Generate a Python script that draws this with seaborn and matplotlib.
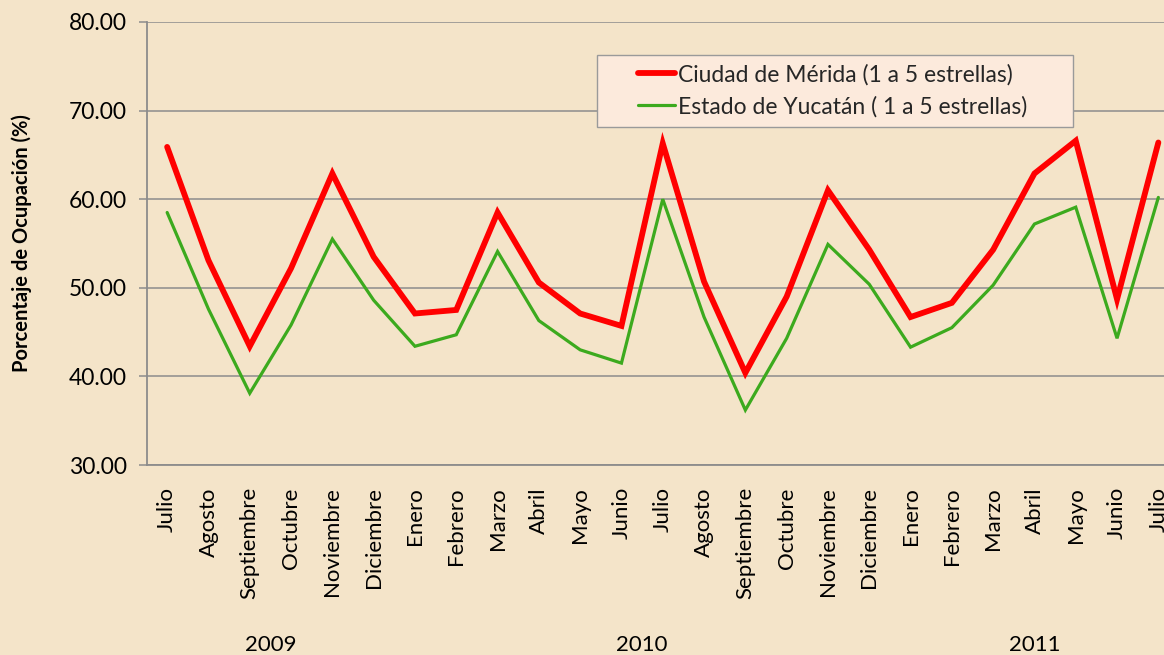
import matplotlib
matplotlib.use("Agg")
import matplotlib.pyplot as plt
import matplotlib.transforms as mtransforms
from matplotlib.patches import Rectangle
from matplotlib.lines import Line2D
import seaborn as sns
import pandas as pd

# ---- data ----
months = ["Julio", "Agosto", "Septiembre", "Octubre", "Noviembre", "Diciembre",
          "Enero", "Febrero", "Marzo", "Abril", "Mayo", "Junio",
          "Julio", "Agosto", "Septiembre", "Octubre", "Noviembre", "Diciembre",
          "Enero", "Febrero", "Marzo", "Abril", "Mayo", "Junio", "Julio"]
merida = [65.9, 53.1, 43.4, 52.2, 62.9, 53.5, 47.1, 47.5, 58.5, 50.6, 47.1, 45.7,
          66.3, 50.7, 40.4, 49.0, 61.0, 54.3, 46.7, 48.3, 54.3, 62.9, 66.6, 48.7, 66.4]
yucatan = [58.5, 47.6, 38.1, 45.8, 55.5, 48.6, 43.4, 44.7, 54.1, 46.3, 43.0, 41.5,
           60.0, 46.7, 36.2, 44.3, 54.9, 50.4, 43.3, 45.5, 50.3, 57.2, 59.1, 44.3, 60.2]
years = ["2009", "2010", "2011"]
year_spans = [(0, 5), (6, 17), (18, 24)]
series_names = ["Ciudad de Mérida (1 a 5 estrellas)", "Estado de Yucatán ( 1 a 5 estrellas)"]
y_label = "Porcentaje de Ocupación (%)"

idx = list(range(len(months)))
df = pd.DataFrame({
    "idx": idx * 2,
    "valor": merida + yucatan,
    "serie": [series_names[0]] * len(idx) + [series_names[1]] * len(idx),
})

BG = "#F4E4C9"
RED = "#FF0000"
GREEN = "#3CAA1E"
sns.set_theme(style="white")
plt.rcParams["font.family"] = ["Lato", "DejaVu Sans"]

W, H = 1164, 655
fig = plt.figure(figsize=(W / 100, H / 100), dpi=100, facecolor=BG)
ax = fig.add_axes([146.5 / W, 1 - 465 / H, 1032.5 / W, 443 / H])
ax.set_facecolor(BG)

palette = {series_names[0]: RED, series_names[1]: GREEN}
sns.lineplot(data=df, x="idx", y="valor", hue="serie", palette=palette,
             size="serie", sizes={series_names[0]: 4.2, series_names[1]: 2.3},
             ax=ax, legend=False, solid_joinstyle="miter")

ax.set_xlim(-0.5, len(months) - 0.5)
ax.set_ylim(30, 80)
yt = [30, 40, 50, 60, 70, 80]
ax.set_yticks(yt)
ax.set_yticklabels([f"{v:.2f}" for v in yt], fontsize=16.5, color="black")
ax.set_xticks(idx)
ax.set_xticklabels(months, rotation=90, fontsize=16, color="black", va="top", ha="center")
ax.set_xlabel("")
ax.set_ylabel(y_label, fontsize=14.5, fontweight="bold", color="black")
ax.yaxis.label.set_va("center")
ax.yaxis.set_label_coords((22 - 146.5) / 1032.5, 0.5)

ax.grid(axis="y", color="#8C8C8C", linewidth=1.1)
ax.grid(axis="x", visible=False)
ax.set_axisbelow(True)
for s in ["top", "right"]:
    ax.spines[s].set_visible(False)
for s in ["left", "bottom"]:
    ax.spines[s].set_color("#8C8C8C")
    ax.spines[s].set_linewidth(1.3)
ax.tick_params(axis="y", which="both", left=True, length=6, width=1.1, color="#8C8C8C", pad=8)
ax.tick_params(axis="x", which="both", bottom=False, pad=10)

# year labels
trans = mtransforms.blended_transform_factory(ax.transData, fig.transFigure)
for yr, (a, b) in zip(years, year_spans):
    ax.text((a + b) / 2, 1 - 645 / H, yr, transform=trans, ha="center", va="center",
            fontsize=16, color="black")

# legend box (pixel-placed) + frameless legend
box = Rectangle((597 / W, 1 - 127 / H), (1073 - 597) / W, 72 / H, transform=fig.transFigure,
                facecolor="#FCEADC", edgecolor="#9A9A9A", linewidth=1.0, zorder=4)
fig.patches.append(box)
handles = [Line2D([], [], color=RED, lw=4.2), Line2D([], [], color=GREEN, lw=2.3)]
leg = fig.legend(handles, series_names, loc="upper left",
                 bbox_to_anchor=(638 / W, 1 - 64 / H), bbox_transform=fig.transFigure,
                 borderaxespad=0, borderpad=0, fontsize=16.5, frameon=False,
                 handlelength=1.6, handletextpad=0.15, labelspacing=0.45)
leg.set_zorder(5)

fig.savefig("out.png", dpi=100, facecolor=BG)
